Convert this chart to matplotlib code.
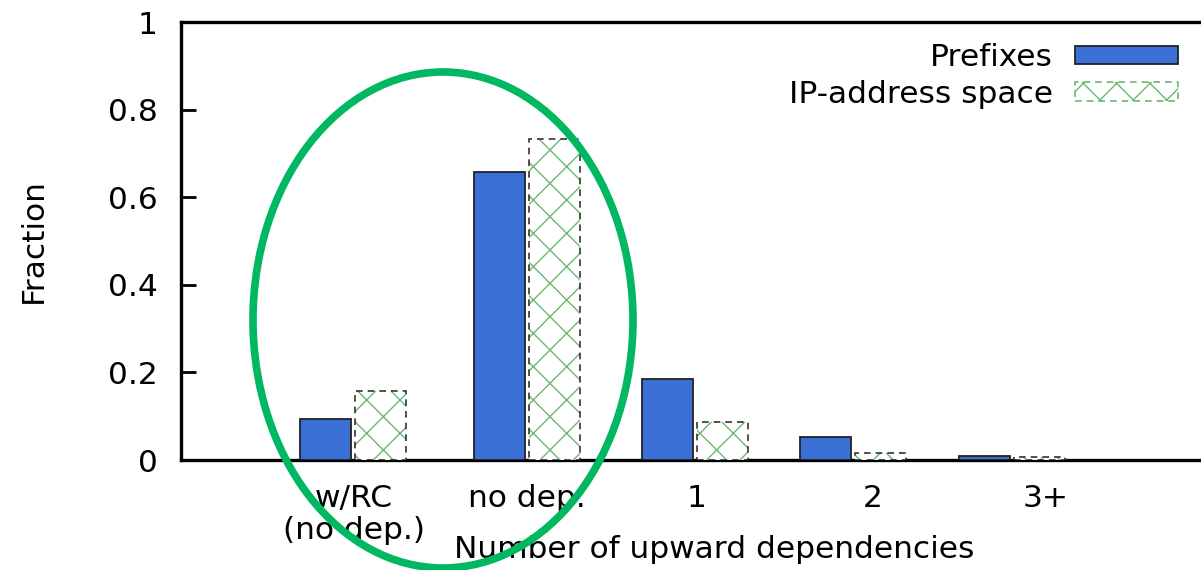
import matplotlib
matplotlib.use("Agg")
import matplotlib.pyplot as plt
from matplotlib.patches import Ellipse, Patch
import numpy as np

plt.rcParams['font.family'] = ['DejaVu Sans']
plt.rcParams['hatch.linewidth'] = 1.0

# data
categories = ["w/RC\n(no dep.)", "no dep.", "1", "2", "3+"]
prefixes = [0.094, 0.658, 0.186, 0.052, 0.009]
ip_space = [0.158, 0.734, 0.086, 0.015, 0.007]
yticks = [0, 0.2, 0.4, 0.6, 0.8, 1]
yticklabels = ["0", "0.2", "0.4", "0.6", "0.8", "1"]

# layout (x in pixel-like units from the left spine)
group_x = np.array([172, 346, 513.5, 672, 831])
label_x = [173, 346, 516, 692, 865]
bw = 51
off = 27.5
blue = "#3a6fd6"
fs = 22.5

fig = plt.figure(figsize=(12.01, 5.70), dpi=100)
ax = fig.add_axes([181/1201, 110/570, 1020/1201, 438/570])

ax.bar(group_x - off, prefixes, width=bw, color=blue, edgecolor="#222222",
       linewidth=1.3, zorder=3)
ax.bar(group_x + off, ip_space, width=bw, color="white", edgecolor="#6cb86f",
       hatch="x", linewidth=0, zorder=3)
ax.bar(group_x + off, ip_space, width=bw, fill=False, edgecolor="#333333",
       linewidth=1.2, linestyle=(0, (4, 3)), zorder=4)

ax.set_xlim(0, 1020)
ax.set_ylim(0, 1)
ax.set_yticks(yticks)
ax.set_yticklabels(yticklabels)
ax.set_xticks(label_x)
ax.set_xticklabels(categories, linespacing=1.15)
ax.tick_params(axis='y', direction='in', length=11, width=2, pad=17, labelsize=fs)
ax.tick_params(axis='x', length=0, pad=17, labelsize=fs)
for s in ['left', 'top', 'bottom']:
    ax.spines[s].set_linewidth(2.4)
ax.spines['right'].set_visible(False)

ax.set_ylabel("Fraction", fontsize=fs)
ax.yaxis.set_label_coords(-0.131, 0.5)
ax.set_xlabel("Number of upward dependencies", fontsize=fs)
ax.xaxis.set_label_coords(0.523, -0.172)

handles = [Patch(facecolor=blue, edgecolor="#222222", linewidth=1.3),
           Patch(facecolor="white", edgecolor="#6cb86f", hatch="x", linewidth=1.2,
                 linestyle=(0, (4, 3)))]
leg = ax.legend(handles, ["Prefixes", "IP-address space"], loc='upper right',
                bbox_to_anchor=(1.005, 1.016), frameon=False, markerfirst=False,
                fontsize=fs, handlelength=3.3, handleheight=0.55,
                handletextpad=0.7, labelspacing=0.25)

# highlight ellipse
fig.patches.append(Ellipse((443/1201, 1 - 320/570), 380/1201, 496/570,
                           transform=fig.transFigure, fill=False,
                           edgecolor="#00b862", linewidth=5.5, zorder=10))

plt.savefig("out.png", dpi=100)
